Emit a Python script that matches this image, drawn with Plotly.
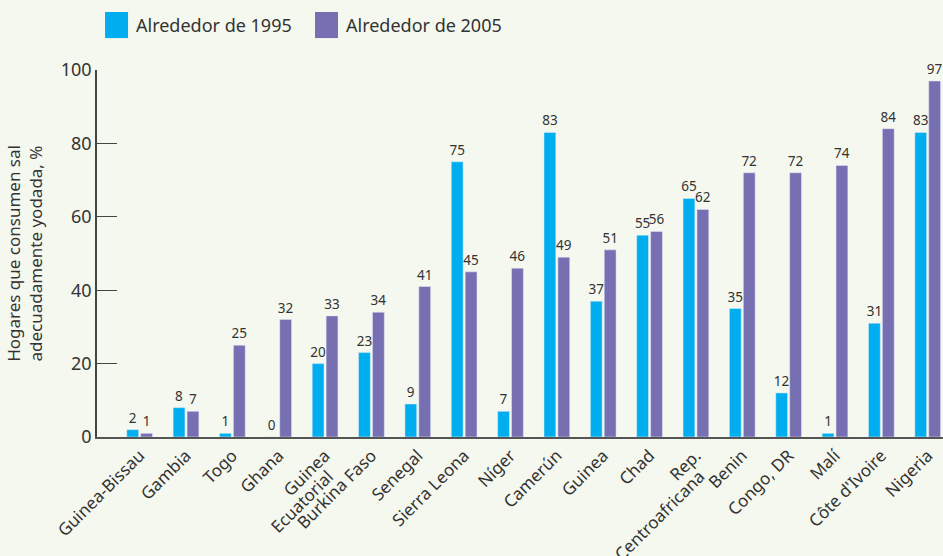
import plotly.graph_objects as go

# data
paises = ['Guinea-Bissau', 'Gambia', 'Togo', 'Ghana', 'Guinea Ecuatorial',
          'Burkina Faso', 'Senegal', 'Sierra Leona', 'Níger', 'Camerún', 'Guinea',
          'Chad', 'Rep. Centroafricana', 'Benin', 'Congo, DR', 'Malí',
          "Côte d'Ivoire", 'Nigeria']
v1995 = [2, 8, 1, 0, 20, 23, 9, 75, 7, 83, 37, 55, 65, 35, 12, 1, 31, 83]
v2005 = [1, 7, 25, 32, 33, 34, 41, 45, 46, 49, 51, 56, 62, 72, 72, 74, 84, 97]
y_ticks = [0, 20, 40, 60, 80, 100]
# two-line category labels: first line on the axis, second line underneath
dos_lineas = {'Guinea Ecuatorial': ('Guinea', 'Ecuatorial'),
              'Rep. Centroafricana': ('Rep.', 'Centroafricana')}

series = [('Alrededor de 1995', v1995, '#00aeef'),
          ('Alrededor de 2005', v2005, '#766fb2')]

txt = '#333333'
bg = '#f5f8ee'
fnt = 'Noto Sans, Liberation Sans, sans-serif'
tick_size = 17

fig = go.Figure()
for name, vals, col in series:
    fig.add_trace(go.Bar(x=paises, y=vals, name=name, marker_color=col,
                         text=vals, textposition='outside', constraintext='none',
                         textfont=dict(size=13.5, color=txt), cliponaxis=False,
                         showlegend=False))

# legend drawn by hand (big square swatches like the original)
for i, (name, vals, col) in enumerate(series):
    x0 = 0.0095 + i * 0.2482
    fig.add_shape(type='rect', xref='paper', yref='paper', x0=x0, x1=x0 + 0.0272,
                  y0=1.087, y1=1.158, fillcolor=col, line_width=0)
    fig.add_annotation(xref='paper', yref='paper', x=x0 + 0.034, y=1.1226,
                       xanchor='left', yanchor='middle', showarrow=False,
                       text=name, font=dict(size=18, color=txt))

ticktext = [dos_lineas[p][0] if p in dos_lineas else p for p in paises]
for p, (l1, l2) in dos_lineas.items():
    fig.add_annotation(x=p, y=0, xref='x', yref='y', text=l2, textangle=-45,
                       xanchor='right', yanchor='top', showarrow=False,
                       xshift=15.5, yshift=-25.5, font=dict(size=tick_size, color=txt))

fig.update_layout(
    width=943, height=556,
    margin=dict(l=97, r=0, t=70, b=119),
    paper_bgcolor=bg, plot_bgcolor=bg,
    font=dict(family=fnt, color=txt, size=16),
    barmode='group', bargap=0.4, bargroupgap=0.15,
    xaxis=dict(range=[-0.92, 17.33], tickangle=-45, showline=True, automargin=False,
               tickmode='array', tickvals=paises, ticktext=ticktext,
               linecolor='#555555', linewidth=2, ticks='', showgrid=False,
               tickfont=dict(size=tick_size)),
    yaxis=dict(range=[0, 100], tickvals=y_ticks, ticks='inside', ticklen=20,
               automargin=False,
               tickcolor='#444444', showline=True, linecolor='#444444', linewidth=1.5,
               showgrid=False, zeroline=False, tickfont=dict(size=18),
               title=dict(text='Hogares que consumen sal<br>adecuadamente yodada, %',
                          font=dict(size=17), standoff=14)),
)

fig.write_html('out.html', config={'displayModeBar': False},
               post_script="document.body.style.margin='0px';"
                           "document.body.style.background='%s';" % bg)
